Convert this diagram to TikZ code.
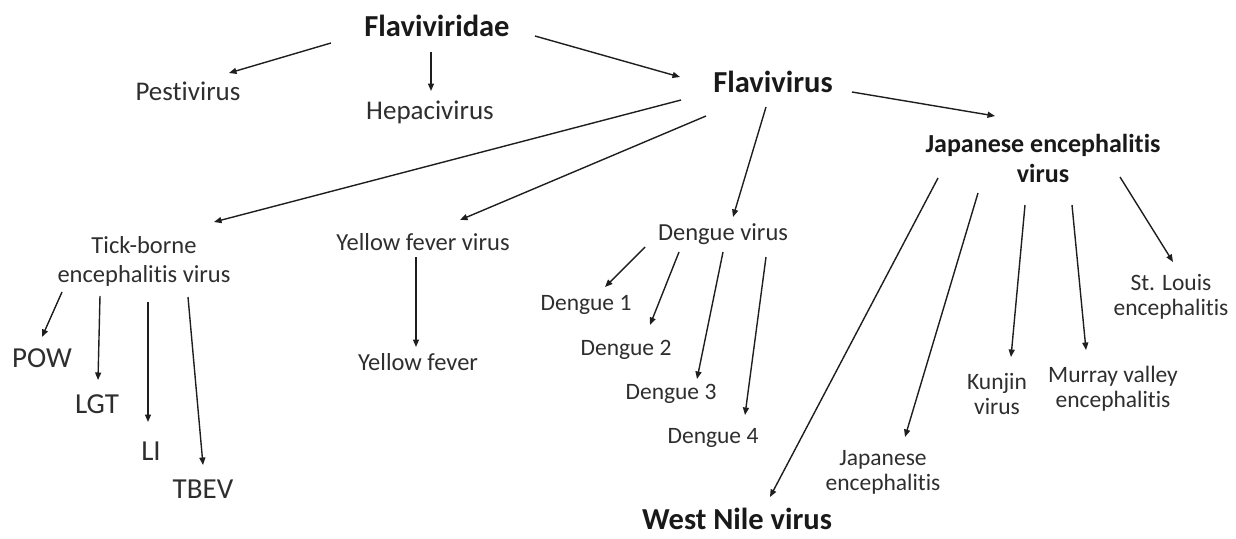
\documentclass[tikz,border=0pt]{standalone}
\usepackage{fontspec}
\setmainfont{Carlito}[Ligatures=NoCommon]
\usetikzlibrary{arrows.meta,calc}
\definecolor{txt}{HTML}{2E2E2E}
\definecolor{ln}{HTML}{1E1E1E}
\tikzset{
  lbl/.style={anchor=base,inner sep=0pt,text=txt,align=center,font=\fontsize{23.5}{25}\selectfont},
  lblm/.style={lbl,font=\fontsize{24.5}{25}\selectfont},
  lblw/.style={lbl,font=\fontsize{24.5}{29}\selectfont},
  lbll/.style={lbl,font=\fontsize{27}{30}\selectfont},
  big/.style={lbl,font=\fontsize{29}{30}\selectfont},
  head/.style={lbl,text=black!90,font=\bfseries\fontsize{30.5}{30}\selectfont},
  headj/.style={lbl,text=black!90,font=\bfseries\fontsize{26}{30}\selectfont},
  arr/.style={draw=ln,line width=1.4pt,-{Triangle[length=7.5pt,width=6pt]}}
}
\begin{document}
\begin{tikzpicture}[x=1pt,y=-1pt]
\useasboundingbox (0,0) rectangle (1236,538);
% nodes
\node[head] (fam) at (437,36) {Flaviviridae};
\node[lbll] (pest) at (188,100) {Pestivirus};
\node[lbll] (hep) at (430,119) {Hepacivirus};
\node[head] (flav) at (773,92) {Flavivirus};
\node[headj] (jev) at (1043,182) {Japanese encephalitis\\virus};
\node[lblw] (tbe) at (144,282) {Tick-borne\\encephalitis virus};
\node[lblm] (yfv) at (423,250) {Yellow fever virus};
\node[lblm] (yf) at (418,370) {Yellow fever};
\node[lblm] (dv) at (723,240) {Dengue virus};
\node[lbl] (d1) at (586,310) {Dengue 1};
\node[lbl] (d2) at (626,355) {Dengue 2};
\node[lbl] (d3) at (671,399) {Dengue 3};
\node[lbl] (d4) at (713,443) {Dengue 4};
\node[big] (pow) at (42,367) {POW};
\node[big] (lgt) at (97,413) {LGT};
\node[big] (li) at (151,460) {LI};
\node[big] (tbev) at (203,498) {TBEV};
\node[head] (wn) at (737,529) {West Nile virus};
\node[lbl] (je) at (883,490) {Japanese\\encephalitis};
\node[lbl] (kun) at (997,414) {Kunjin\\virus};
\node[lbl] (mur) at (1113,407) {Murray valley\\encephalitis};
\node[lbl] (stl) at (1171,315) {St. Louis\\encephalitis};
% connectors
\draw[arr] ($(fam.base)+(-106,7)$) -- ($(pest.base)+(41,-27)$);
\draw[arr] ($(fam.base)+(-6,16)$) -- ($(hep.base)+(1,-28)$);
\draw[arr] ($(fam.base)+(98,0)$) -- ($(flav.base)+(-93,-15)$);
\draw[arr] ($(flav.base)+(79,0)$) -- ($(jev.base)+(-48,-66)$);
\draw[arr] ($(flav.base)+(-92,8)$) -- ($(tbe.base)+(70,-60)$);
\draw[arr] ($(flav.base)+(-67,24)$) -- ($(yfv.base)+(37,-30)$);
\draw[arr] ($(flav.base)+(-7,15)$) -- ($(dv.base)+(10,-23)$);
\draw[arr] ($(yfv.base)+(-7,7)$) -- ($(yf.base)+(-2,-23)$);
\draw[arr] ($(tbe.base)+(-82,10)$) -- ($(pow.base)+(0,-30)$);
\draw[arr] ($(tbe.base)+(-44,14)$) -- ($(lgt.base)+(1,-33)$);
\draw[arr] ($(tbe.base)+(4,20)$) -- ($(li.base)+(-3,-38)$);
\draw[arr] ($(tbe.base)+(44,15)$) -- ($(tbev.base)+(0,-33)$);
\draw[arr] ($(dv.base)+(-78,7)$) -- ($(d1.base)+(19,-23)$);
\draw[arr] ($(dv.base)+(-44,12)$) -- ($(d2.base)+(24,-30)$);
\draw[arr] ($(dv.base)+(0,12)$) -- ($(d3.base)+(26,-20)$);
\draw[arr] ($(dv.base)+(43,17)$) -- ($(d4.base)+(32,-28)$);
\draw[arr] ($(jev.base)+(-105,-4)$) -- ($(wn.base)+(33,-32)$);
\draw[arr] ($(jev.base)+(-65,11)$) -- ($(je.base)+(22,-53)$);
\draw[arr] ($(jev.base)+(-18,23)$) -- ($(kun.base)+(14,-57)$);
\draw[arr] ($(jev.base)+(29,23)$) -- ($(mur.base)+(-27,-57)$);
\draw[arr] ($(jev.base)+(77,-5)$) -- ($(stl.base)+(2,-53)$);
\end{tikzpicture}
\end{document}
